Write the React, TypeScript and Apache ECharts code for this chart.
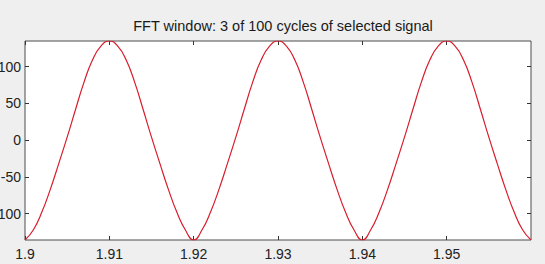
import React, { useEffect, useRef } from "react";
import * as echarts from "echarts";

const titleText = "FFT window: 3 of 100 cycles of selected signal";

const times = [
  1.9, 1.901, 1.902, 1.903, 1.904, 1.905, 1.906, 1.907, 1.908, 1.909,
  1.91, 1.911, 1.912, 1.913, 1.914, 1.915, 1.916, 1.917, 1.918, 1.919,
  1.92, 1.921, 1.922, 1.923, 1.924, 1.925, 1.926, 1.927, 1.928, 1.929,
  1.93, 1.931, 1.932, 1.933, 1.934, 1.935, 1.936, 1.937, 1.938, 1.939,
  1.94, 1.941, 1.942, 1.943, 1.944, 1.945, 1.946, 1.947, 1.948, 1.949,
  1.95, 1.951, 1.952, 1.953, 1.954, 1.955, 1.956, 1.957, 1.958, 1.959,
  1.96,
];

const signal = [
  -136, -122, -98, -67, -32, 4, 42, 79, 109, 128,
  135, 128, 109, 79, 42, 4, -32, -67, -98, -122,
  -136, -122, -98, -67, -32, 4, 42, 79, 109, 128,
  135, 128, 109, 79, 42, 4, -32, -67, -98, -122,
  -136, -122, -98, -67, -32, 4, 42, 79, 109, 128,
  135, 128, 109, 79, 42, 4, -32, -67, -98, -122,
  -136,
];

const xTicks = [1.9, 1.91, 1.92, 1.93, 1.94, 1.95];
const yTicks = [-100, -50, 0, 50, 100];
const xRange = [1.9, 1.96];
const yRange = [-136, 135];

export default function App() {
  const ref = useRef<HTMLDivElement>(null);

  useEffect(() => {
    if (!ref.current) return;
    const chart = echarts.init(ref.current, undefined, { renderer: "svg" });
    const font = "'Liberation Sans', Arial, sans-serif";
    const tickStyle = { show: true, inside: true, length: 4, lineStyle: { color: "#333", width: 1 } };
    chart.setOption({
      animation: false,
      backgroundColor: "#efefef",
      title: {
        text: titleText,
        left: 278,
        top: 13,
        textAlign: "center",
        textStyle: { fontFamily: font, fontSize: 14.5, fontWeight: "normal", color: "#1a1a1a" },
      },
      grid: {
        left: 25,
        right: 14,
        top: 41,
        bottom: 24,
        containLabel: false,
        outerBoundsMode: "none",
        show: true,
        backgroundColor: "#ffffff",
        borderColor: "#4d4d4d",
        borderWidth: 1,
      },
      xAxis: [
        {
          type: "value",
          min: xRange[0],
          max: xRange[1],
          position: "bottom",
          axisLine: { show: false, onZero: false },
          splitLine: { show: false },
          axisTick: { ...tickStyle, customValues: xTicks },
          axisLabel: {
            customValues: xTicks,
            margin: 7,
            fontFamily: font,
            fontSize: 14,
            color: "#222",
            formatter: (v: number) => String(parseFloat(v.toFixed(2))),
          },
        },
        {
          type: "value",
          min: xRange[0],
          max: xRange[1],
          position: "top",
          axisLine: { show: false, onZero: false },
          splitLine: { show: false },
          axisTick: { ...tickStyle, customValues: xTicks },
          axisLabel: { show: false },
        },
      ],
      yAxis: [
        {
          type: "value",
          min: yRange[0],
          max: yRange[1],
          position: "left",
          axisLine: { show: false, onZero: false },
          splitLine: { show: false },
          axisTick: { ...tickStyle, customValues: yTicks },
          axisLabel: {
            customValues: yTicks,
            margin: 4,
            fontFamily: font,
            fontSize: 14,
            color: "#222",
          },
        },
        {
          type: "value",
          min: yRange[0],
          max: yRange[1],
          position: "right",
          axisLine: { show: false, onZero: false },
          splitLine: { show: false },
          axisTick: { ...tickStyle, customValues: yTicks },
          axisLabel: { show: false },
        },
      ],
      series: [
        {
          type: "line",
          xAxisIndex: 0,
          yAxisIndex: 0,
          data: times.map((t, i) => [t, signal[i]]),
          symbol: "none",
          smooth: 0.5,
          clip: true,
          lineStyle: { color: "#d81e2c", width: 1.2 },
        },
      ],
    });
    return () => chart.dispose();
  }, []);

  return (
    <div
      ref={ref}
      style={{ position: "absolute", left: 0, top: 0, width: 545, height: 264 }}
    />
  );
}
